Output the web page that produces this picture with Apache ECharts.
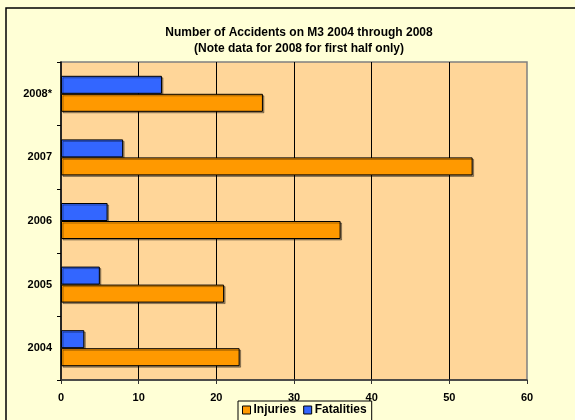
<!DOCTYPE html>
<html>
<head>
<meta charset="utf-8">
<script src="https://cdn.jsdelivr.net/npm/echarts@6/dist/echarts.min.js"></script>
<style>
html,body{margin:0;padding:0;background:#FFFFD6;}
#chart{width:575px;height:420px;}
</style>
</head>
<body>
<div id="chart"></div>
<script>
var categories = ['2004', '2005', '2006', '2007', '2008*'];
var injuries = [23, 21, 36, 53, 26];
var fatalities = [3, 5, 6, 8, 13];
var xTicks = [0, 10, 20, 30, 40, 50, 60];

var chart = echarts.init(document.getElementById('chart'));
var font = 'Liberation Sans, Arial, sans-serif';
chart.setOption({
  backgroundColor: '#FFFFD6',
  animation: false,
  title: {
    text: 'Number of Accidents on M3 2004 through 2008\n(Note data for 2008 for first half only)',
    left: 294, top: 20, textAlign: 'center',
    textStyle: {fontFamily: font, fontSize: 12, fontWeight: 'bold', color: '#000', lineHeight: 16}
  },
  graphic: [{
    type: 'rect', shape: {x: 6, y: 8, width: 640, height: 480},
    style: {fill: 'none', stroke: '#000', lineWidth: 1.5}, z: 100, silent: true
  }],
  legend: {
    data: ['Injuries', 'Fatalities'],
    left: 238, top: 401,
    orient: 'horizontal',
    backgroundColor: '#FFFFD6',
    borderColor: '#000', borderWidth: 1,
    padding: [3, 5, 6, 4],
    itemGap: 7,
    itemWidth: 8, itemHeight: 8,
    icon: 'rect',
    textStyle: {fontFamily: font, fontSize: 12, fontWeight: 'bold', color: '#000', padding: [0, 0, 0, -2]},
    itemStyle: {borderColor: '#000', borderWidth: 1}
  },
  grid: {
    left: 61, right: 48, top: 62, bottom: 40,
    show: true, backgroundColor: '#FFD699', borderColor: '#808080', borderWidth: 1.5,
    containLabel: false
  },
  xAxis: {
    type: 'value', min: xTicks[0], max: xTicks[xTicks.length - 1], interval: 10,
    axisLine: {show: true, lineStyle: {color: '#333', width: 1.5}},
    axisTick: {show: true, length: 4, lineStyle: {color: '#333'}},
    axisLabel: {fontFamily: font, fontSize: 11, fontWeight: 'bold', color: '#000', margin: 12},
    splitLine: {show: true, showMinLine: false, showMaxLine: false, lineStyle: {color: '#000', width: 1}}
  },
  yAxis: {
    type: 'category', data: categories,
    axisLine: {show: true, lineStyle: {color: '#000', width: 1.5}},
    axisTick: {show: true, length: 4, inside: false, lineStyle: {color: '#000'}},
    axisLabel: {fontFamily: font, fontSize: 11, fontWeight: 'bold', color: '#000', margin: 9},
    splitLine: {show: false}
  },
  series: [
    {
      name: 'Fatalities', type: 'bar', data: fatalities, barWidth: 18, barGap: '0%',
      itemStyle: {color: '#3366FF', borderColor: '#000', borderWidth: 1,
        shadowColor: 'rgba(0,0,0,0.35)', shadowOffsetX: 1.5, shadowOffsetY: 1.5}
    },
    {
      name: 'Injuries', type: 'bar', data: injuries, barWidth: 18, barGap: '0%',
      itemStyle: {color: '#FF9900', borderColor: '#000', borderWidth: 1,
        shadowColor: 'rgba(0,0,0,0.35)', shadowOffsetX: 1.5, shadowOffsetY: 1.5}
    }
  ]
});
</script>
</body>
</html>
